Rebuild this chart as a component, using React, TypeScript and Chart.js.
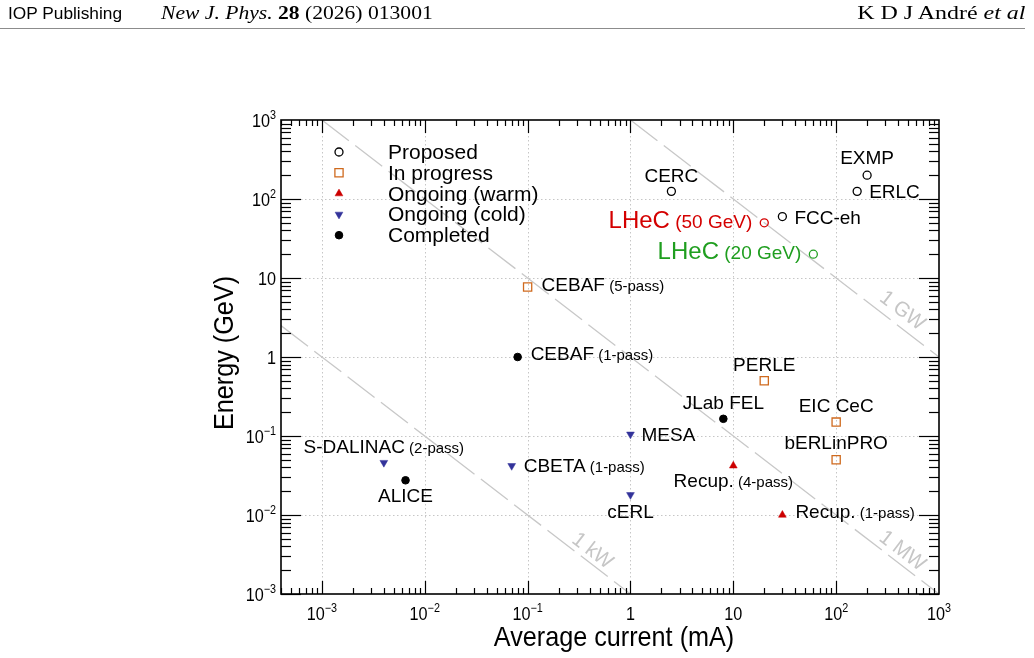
import React, { useEffect, useRef } from "react";
import { Chart, registerables } from "chart.js";

Chart.register(...registerables);

const SANS = '"Liberation Sans", Arial, Helvetica, sans-serif';

// ---------------- data ----------------
const proposedNames = ["CERC", "FCC-eh", "EXMP", "ERLC"];
const proposedCurrent = [2.5, 30, 200, 160];
const proposedEnergy = [125, 60, 200, 125];

const lhec50Names = ["LHeC (50 GeV)"];
const lhec50Current = [20];
const lhec50Energy = [50];

const lhec20Names = ["LHeC (20 GeV)"];
const lhec20Current = [60];
const lhec20Energy = [20];

const inProgressNames = ["CEBAF (5-pass)", "PERLE", "EIC CeC", "bERLinPRO"];
const inProgressCurrent = [0.1, 20, 100, 100];
const inProgressEnergy = [7.7, 0.5, 0.15, 0.05];

const warmNames = ["Recup. (4-pass)", "Recup. (1-pass)"];
const warmCurrent = [10, 30];
const warmEnergy = [0.042, 0.01];

const coldNames = ["S-DALINAC (2-pass)", "MESA", "CBETA (1-pass)", "cERL"];
const coldCurrent = [0.004, 1, 0.07, 1];
const coldEnergy = [0.046, 0.105, 0.042, 0.018];

const completedNames = ["CEBAF (1-pass)", "JLab FEL", "ALICE"];
const completedCurrent = [0.08, 8, 0.0065];
const completedEnergy = [1, 0.165, 0.0275];

const legendLabels = ["Proposed", "In progress", "Ongoing (warm)", "Ongoing (cold)", "Completed"];

const xTickValues = [1e-3, 1e-2, 1e-1, 1, 10, 100, 1000];
const yTickValues = [1e-3, 1e-2, 1e-1, 1, 10, 100, 1000];
const xMin = 4e-4;
const xMax = 1e3;
const yMin = 1e-3;
const yMax = 1e3;

const powerNames = ["1 kW", "1 MW", "1 GW"];
const powerLineCurrent = [
  [4e-4, 1],
  [1e-3, 1e3],
  [1, 1e3],
];
const powerLineEnergy = [
  [2.5, 1e-3],
  [1e3, 1e-3],
  [1e3, 1],
];

// ---------------- layout / styles ----------------
const powerLabelAt = [
  { x: 0.432, y: 0.0036 },
  { x: 447, y: 0.0036 },
  { x: 447, y: 3.94 },
];

type Align = "left" | "center" | "right";
const labelPlace: Record<string, { align: Align; dx: number; dy: number; size?: number; small?: number }> = {
  CERC: { align: "center", dx: 0, dy: -9 },
  "FCC-eh": { align: "left", dx: 12, dy: 7 },
  EXMP: { align: "center", dx: 0, dy: -11 },
  ERLC: { align: "left", dx: 12, dy: 7 },
  "LHeC (50 GeV)": { align: "right", dx: -12, dy: 5, size: 24, small: 19 },
  "LHeC (20 GeV)": { align: "right", dx: -12, dy: 5, size: 24, small: 19 },
  "CEBAF (5-pass)": { align: "left", dx: 14, dy: 4 },
  PERLE: { align: "center", dx: 0, dy: -10 },
  "EIC CeC": { align: "center", dx: 0, dy: -10 },
  bERLinPRO: { align: "center", dx: 0, dy: -11 },
  "Recup. (4-pass)": { align: "center", dx: 0, dy: 21 },
  "Recup. (1-pass)": { align: "left", dx: 13, dy: 3 },
  "S-DALINAC (2-pass)": { align: "center", dx: 0, dy: -10 },
  MESA: { align: "left", dx: 11, dy: 7 },
  "CBETA (1-pass)": { align: "left", dx: 12, dy: 6 },
  cERL: { align: "center", dx: 0, dy: 23 },
  "CEBAF (1-pass)": { align: "left", dx: 13, dy: 3 },
  "JLab FEL": { align: "center", dx: 0, dy: -10 },
  ALICE: { align: "center", dx: 0, dy: 22 },
};

type MStyle = { kind: string; r: number; color: string; fill: boolean; lw: number };
const STY: Record<string, MStyle> = {
  proposed: { kind: "circle", r: 4, color: "#000000", fill: false, lw: 1.3 },
  lhec50: { kind: "circle", r: 4, color: "#d40000", fill: false, lw: 1.3 },
  lhec20: { kind: "circle", r: 4, color: "#22a022", fill: false, lw: 1.3 },
  inProgress: { kind: "rect", r: 5.8, color: "#cf6a1e", fill: false, lw: 1.3 },
  warm: { kind: "up", r: 4.5, color: "#cc0000", fill: true, lw: 0.5 },
  cold: { kind: "down", r: 4.5, color: "#33339a", fill: true, lw: 0.5 },
  completed: { kind: "circle", r: 3.8, color: "#000000", fill: true, lw: 1 },
};
const legendStyles = [STY.proposed, STY.inProgress, STY.warm, STY.cold, STY.completed];

const pts = (xs: number[], ys: number[]) => xs.map((x, i) => ({ x, y: ys[i] }));

function pointDataset(names: string[], xs: number[], ys: number[], s: MStyle, labelColor = "#000") {
  return {
    type: "scatter" as const,
    data: pts(xs, ys),
    names,
    labelColor,
    showLine: false,
    pointStyle: s.kind === "circle" ? "circle" : s.kind === "rect" ? "rect" : "triangle",
    rotation: s.kind === "down" ? 180 : 0,
    pointRadius: s.r,
    pointBorderWidth: s.lw,
    pointBorderColor: s.color,
    pointBackgroundColor: s.fill ? s.color : "rgba(0,0,0,0)",
    order: 0,
  };
}

type Run = { text: string; size: number; color: string; dy?: number };
function drawRuns(ctx: CanvasRenderingContext2D, runs: Run[], x: number, y: number, align: Align, sx = 1) {
  ctx.save();
  ctx.translate(x, y);
  ctx.scale(sx, 1);
  ctx.textAlign = "left";
  ctx.textBaseline = "alphabetic";
  let total = 0;
  const ws = runs.map((r) => {
    ctx.font = `${r.size}px ${SANS}`;
    const w = ctx.measureText(r.text).width;
    total += w;
    return w;
  });
  let cx = align === "left" ? 0 : align === "center" ? -total / 2 : -total;
  runs.forEach((r, i) => {
    ctx.font = `${r.size}px ${SANS}`;
    ctx.fillStyle = r.color;
    ctx.fillText(r.text, cx, r.dy || 0);
    cx += ws[i];
  });
  ctx.restore();
}

function drawMarker(ctx: CanvasRenderingContext2D, s: MStyle, x: number, y: number) {
  ctx.save();
  ctx.beginPath();
  const r = s.r;
  if (s.kind === "circle") ctx.arc(x, y, r, 0, Math.PI * 2);
  else if (s.kind === "rect") {
    const h = r * Math.SQRT1_2;
    ctx.rect(x - h, y - h, 2 * h, 2 * h);
  } else if (s.kind === "up") {
    ctx.moveTo(x, y - r);
    ctx.lineTo(x + r * 0.866, y + r / 2);
    ctx.lineTo(x - r * 0.866, y + r / 2);
    ctx.closePath();
  } else {
    ctx.moveTo(x, y + r);
    ctx.lineTo(x + r * 0.866, y - r / 2);
    ctx.lineTo(x - r * 0.866, y - r / 2);
    ctx.closePath();
  }
  if (s.fill) {
    ctx.fillStyle = s.color;
    ctx.fill();
  }
  ctx.strokeStyle = s.color;
  ctx.lineWidth = s.lw;
  ctx.stroke();
  ctx.restore();
}

function tickRuns(v: number): Run[] {
  const e = Math.round(Math.log10(v));
  if (e === 0) return [{ text: "1", size: 18, color: "#000" }];
  if (e === 1) return [{ text: "10", size: 18, color: "#000" }];
  return [
    { text: "10", size: 18, color: "#000" },
    { text: e < 0 ? "\u2212" + -e : String(e), size: 12, color: "#000", dy: -8 },
  ];
}

const rootPlugin = {
  id: "rootStyle",
  beforeDatasetsDraw(chart: any) {
    const { ctx, chartArea: a, scales } = chart;
    const xs = scales.x;
    const ys = scales.y;
    ctx.save();
    ctx.strokeStyle = "#c6c6c6";
    ctx.lineWidth = 1;
    ctx.setLineDash([1.5, 2.5]);
    xTickValues.forEach((v) => {
      const px = Math.round(xs.getPixelForValue(v)) + 0.5;
      if (px <= a.left + 2 || px >= a.right - 2) return;
      ctx.beginPath();
      ctx.moveTo(px, a.top);
      ctx.lineTo(px, a.bottom);
      ctx.stroke();
    });
    yTickValues.forEach((v) => {
      const py = Math.round(ys.getPixelForValue(v)) + 0.5;
      if (py <= a.top + 2 || py >= a.bottom - 2) return;
      ctx.beginPath();
      ctx.moveTo(a.left, py);
      ctx.lineTo(a.right, py);
      ctx.stroke();
    });
    ctx.restore();
  },
  afterDatasetsDraw(chart: any) {
    const { ctx, chartArea: a, scales } = chart;
    const xs = scales.x;
    const ys = scales.y;

    // power line labels
    chart.data.datasets.forEach((ds: any, i: number) => {
      if (ds.powerIndex === undefined) return;
      const meta = chart.getDatasetMeta(i);
      const p0 = meta.data[0];
      const p1 = meta.data[1];
      const ang = Math.atan2(p1.y - p0.y, p1.x - p0.x);
      const at = powerLabelAt[ds.powerIndex];
      const cx = xs.getPixelForValue(at.x);
      const cy = ys.getPixelForValue(at.y);
      ctx.save();
      ctx.translate(cx, cy);
      ctx.rotate(ang);
      drawRuns(ctx, [{ text: powerNames[ds.powerIndex], size: 21, color: "#c6c6c6" }], 0, 7, "center", 0.95);
      ctx.restore();
    });

    // point labels
    chart.data.datasets.forEach((ds: any, i: number) => {
      if (!ds.names) return;
      const meta = chart.getDatasetMeta(i);
      ds.names.forEach((name: string, j: number) => {
        const el = meta.data[j];
        const p = labelPlace[name] || { align: "left" as Align, dx: 10, dy: 6 };
        const k = name.indexOf(" (");
        const big = p.size || 19;
        const small = p.small || 15;
        const runs: Run[] =
          k >= 0
            ? [
                { text: name.slice(0, k), size: big, color: ds.labelColor },
                { text: name.slice(k), size: small, color: ds.labelColor },
              ]
            : [{ text: name, size: big, color: ds.labelColor }];
        drawRuns(ctx, runs, el.x + p.dx, el.y + p.dy, p.align);
      });
    });

    // legend
    const lx = a.left + 58;
    const ly = a.top + 32;
    legendLabels.forEach((t, i) => {
      const y = ly + i * 20.8;
      drawMarker(ctx, legendStyles[i], lx, y);
      drawRuns(ctx, [{ text: t, size: 21, color: "#000" }], a.left + 107, y + 7, "left");
    });

    // frame
    ctx.save();
    ctx.strokeStyle = "#000";
    ctx.lineWidth = 1.6;
    ctx.strokeRect(a.left, a.top, a.right - a.left, a.bottom - a.top);
    ctx.lineWidth = 1.2;
    const tick = (x1: number, y1: number, x2: number, y2: number) => {
      ctx.beginPath();
      ctx.moveTo(x1, y1);
      ctx.lineTo(x2, y2);
      ctx.stroke();
    };
    // x ticks
    for (let d = -4; d <= 2; d++) {
      for (let m = 1; m <= 9; m++) {
        const v = m * Math.pow(10, d);
        if (v < xMin * 0.999 || v > xMax * 1.001) continue;
        const px = Math.round(xs.getPixelForValue(v)) + 0.5;
        const len = m === 1 ? 13 : 6;
        tick(px, a.bottom, px, a.bottom - len);
        tick(px, a.top, px, a.top + len);
      }
    }
    // y ticks
    for (let d = -3; d <= 2; d++) {
      for (let m = 1; m <= 9; m++) {
        const v = m * Math.pow(10, d);
        if (v < yMin * 0.999 || v > yMax * 1.001) continue;
        const py = Math.round(ys.getPixelForValue(v)) + 0.5;
        const len = m === 1 ? 20 : 10;
        tick(a.left, py, a.left + len, py);
        tick(a.right, py, a.right - len, py);
      }
    }
    ctx.restore();

    // tick labels
    xTickValues.forEach((v) => {
      drawRuns(ctx, tickRuns(v), xs.getPixelForValue(v), a.bottom + 26, "center", 0.9);
    });
    yTickValues.forEach((v) => {
      drawRuns(ctx, tickRuns(v), a.left - 5, ys.getPixelForValue(v) + 7, "right", 0.9);
    });

    // axis titles
    drawRuns(ctx, [{ text: "Average current (mA)", size: 28, color: "#000" }], (a.left + a.right) / 2 + 4, a.bottom + 52, "center", 0.9);
    ctx.save();
    ctx.translate(a.left - 48, (a.top + a.bottom) / 2 - 4);
    ctx.rotate(-Math.PI / 2);
    drawRuns(ctx, [{ text: "Energy (GeV)", size: 28, color: "#000" }], 0, 0, "center", 0.9);
    ctx.restore();
  },
};

export default function App() {
  const ref = useRef<HTMLCanvasElement>(null);

  useEffect(() => {
    if (!ref.current) return;
    const lineSets = powerNames.map((n, i) => ({
      type: "scatter" as const,
      data: pts(powerLineCurrent[i], powerLineEnergy[i]),
      powerIndex: i,
      showLine: true,
      borderColor: "#c8c8c8",
      borderWidth: 1.3,
      borderDash: [34, 8],
      pointRadius: 0,
      fill: false,
      order: 10,
    }));
    const chart = new Chart(ref.current, {
      type: "scatter",
      data: {
        datasets: [
          pointDataset(proposedNames, proposedCurrent, proposedEnergy, STY.proposed),
          pointDataset(lhec50Names, lhec50Current, lhec50Energy, STY.lhec50, "#d40000"),
          pointDataset(lhec20Names, lhec20Current, lhec20Energy, STY.lhec20, "#1f9e1f"),
          pointDataset(inProgressNames, inProgressCurrent, inProgressEnergy, STY.inProgress),
          pointDataset(warmNames, warmCurrent, warmEnergy, STY.warm),
          pointDataset(coldNames, coldCurrent, coldEnergy, STY.cold),
          pointDataset(completedNames, completedCurrent, completedEnergy, STY.completed),
          ...lineSets,
        ] as any,
      },
      options: {
        animation: false,
        responsive: false,
        devicePixelRatio: 1,
        events: [],
        layout: { padding: { left: 281, right: 95, top: 120, bottom: 64 } },
        plugins: { legend: { display: false }, tooltip: { enabled: false } },
        scales: {
          x: { type: "logarithmic", min: xMin, max: xMax, display: false },
          y: { type: "logarithmic", min: yMin, max: yMax, display: false },
        },
      },
      plugins: [rootPlugin],
    });
    return () => chart.destroy();
  }, []);

  return (
    <div style={{ position: "absolute", left: 0, top: 0, width: 1034, height: 658, background: "#fff", overflow: "hidden" }}>
      <canvas ref={ref} width={1034} height={658} style={{ position: "absolute", left: 0, top: 0, width: 1034, height: 658 }} />
      <div
        style={{
          position: "absolute",
          left: 8,
          top: 5,
          fontFamily: SANS,
          fontSize: 16,
          lineHeight: "18px",
          whiteSpace: "nowrap",
          color: "#000",
          transform: "scaleX(1.08)",
          transformOrigin: "left top",
        }}
      >
        IOP Publishing
      </div>
      <div
        style={{
          position: "absolute",
          left: 161,
          top: 3,
          fontFamily: '"Liberation Serif", "Times New Roman", serif',
          fontSize: 18,
          lineHeight: "20px",
          whiteSpace: "nowrap",
          transform: "scaleX(1.2)",
          transformOrigin: "left top",
          color: "#000",
        }}
      >
        <i>New J. Phys.</i> <b>28</b> (2026) 013001
      </div>
      <div
        style={{
          position: "absolute",
          right: 9,
          top: 3,
          fontFamily: '"Liberation Serif", "Times New Roman", serif',
          fontSize: 18,
          lineHeight: "20px",
          whiteSpace: "nowrap",
          transform: "scaleX(1.33)",
          transformOrigin: "right top",
          color: "#000",
        }}
      >
        K D J André <i>et al</i>
      </div>
      <div style={{ position: "absolute", left: 0, top: 28, width: 1025, height: 1, background: "#8c8c8c" }} />
    </div>
  );
}
